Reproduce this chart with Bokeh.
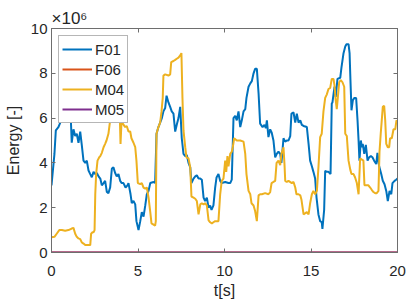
from bokeh.plotting import figure
from bokeh.models import Range1d, LinearAxis, Legend, LegendItem, Title, FixedTicker
from bokeh.embed import file_html
from bokeh.resources import INLINE

# ---- data (energy in units of 1e6) ----
f01_t = [0.0, 0.17, 0.25, 0.40, 0.56, 0.69, 0.81, 0.98, 1.10, 1.17, 1.27, 1.37, 1.46, 1.56, 1.66, 1.75,
         1.85, 1.95, 2.04, 2.14, 2.24, 2.33, 2.43, 2.53, 2.62, 2.72, 2.82, 2.91, 3.01, 3.10, 3.20, 3.29,
         3.39, 3.49, 3.58, 3.68, 3.77, 3.87, 3.97, 4.06, 4.16, 4.28, 4.39, 4.45, 4.57, 4.64, 4.74, 4.84,
         4.91, 5.03, 5.13, 5.22, 5.32, 5.42, 5.51, 5.61, 5.71, 5.90, 5.99, 6.07, 6.18, 6.28, 6.38, 6.47,
         6.57, 6.65, 6.76, 6.86, 6.95, 7.05, 7.15, 7.24, 7.34, 7.44, 7.53, 7.63, 7.73, 7.82, 7.92, 8.02,
         8.09, 8.21, 8.31, 8.40, 8.50, 8.60, 8.69, 8.79, 8.88, 8.98, 9.08, 9.17, 9.25, 9.36, 9.46, 9.54,
         9.65, 9.75, 9.84, 10.04, 10.23, 10.33, 10.42, 10.52, 10.62, 10.71, 10.81, 10.91, 11.00, 11.10,
         11.20, 11.27, 11.39, 11.49, 11.58, 11.68, 11.77, 11.87, 11.97, 12.06, 12.20, 12.31, 12.39, 12.45,
         12.54, 12.64, 12.73, 12.83, 12.93, 13.02, 13.12, 13.22, 13.29, 13.41, 13.51, 13.60, 13.70, 13.80,
         13.87, 13.99, 14.09, 14.18, 14.28, 14.38, 14.47, 14.57, 14.76, 14.86, 14.95, 15.05, 15.14, 15.24,
         15.32, 15.43, 15.53, 15.62, 15.66, 15.76, 15.82, 15.91, 16.01, 16.13, 16.20, 16.24, 16.36, 16.43,
         16.53, 16.69, 16.76, 16.88, 16.98, 17.05, 17.17, 17.23, 17.28, 17.34, 17.42, 17.51, 17.61, 17.69,
         17.75, 17.80, 17.88, 17.94, 17.99, 18.08, 18.17, 18.27, 18.36, 18.46, 18.55, 18.65, 18.77, 18.84,
         18.94, 19.06, 19.15, 19.25, 19.35, 19.44, 19.54, 19.64, 19.71, 19.83, 19.92, 20.0]
f01_e = [3.0, 4.4, 5.45, 5.6, 5.9, 6.1, 6.6, 6.8, 6.3, 4.9, 5.5, 5.2, 5.3, 4.9, 5.4, 4.8,
         4.1, 4.0, 4.1, 3.66, 3.5, 3.36, 3.6, 3.5, 3.55, 3.4, 3.3, 3.0, 3.1, 3.2, 2.7, 2.65,
         2.9, 3.75, 3.8, 3.55, 3.4, 3.5, 3.2, 3.1, 3.1, 2.9, 3.0, 3.1, 2.6, 2.2, 2.3, 2.15,
         1.4, 1.0, 1.4, 1.8, 1.6, 2.1, 2.6, 2.75, 3.1, 3.15, 3.1, 5.3, 5.6, 5.8, 6.0, 6.3,
         6.45, 7.0, 6.7, 6.5, 6.3, 6.2, 5.4, 5.7, 6.0, 6.5, 5.1, 4.4, 4.3, 4.35, 4.0, 3.8,
         3.1, 3.3, 3.4, 3.45, 3.3, 3.3, 3.25, 2.45, 2.3, 2.45, 2.0, 2.1, 1.9, 2.1, 2.9, 3.35,
         3.5, 3.2, 3.1, 3.15, 3.1, 3.1, 3.25, 6.0, 6.1, 5.9, 6.3, 5.6, 5.9, 6.3,
         6.4, 6.9, 7.4, 7.55, 7.65, 8.0, 8.2, 8.2, 7.1, 5.75, 5.6, 5.7, 5.55, 5.9,
         5.15, 5.5, 5.35, 5.0, 4.25, 4.4, 4.5, 4.4, 4.0, 5.1, 4.95, 5.0, 5.0, 5.2,
         6.2, 6.25, 5.8, 6.2, 5.8, 5.9, 5.7, 5.65, 5.6, 4.85, 4.1, 3.85, 3.6, 3.3,
         2.45, 1.7, 1.4, 1.35, 1.05, 1.9, 3.65, 3.6, 3.6, 3.5, 6.65, 6.7, 7.4, 6.95,
         7.75, 7.8, 8.25, 8.9, 9.2, 9.3, 9.3, 8.9, 7.7, 6.35, 6.8, 6.9, 6.9, 5.9,
         5.0, 4.1, 5.0, 4.7, 4.85, 4.4, 4.8, 4.1, 4.25, 4.3, 4.25, 4.1, 3.95, 4.45,
         3.85, 3.5, 3.2, 3.05, 2.75, 2.3, 2.75, 2.6, 3.1, 3.2, 3.25, 3.3]

m04_t = [0.0, 0.17, 0.31, 0.45, 0.60, 0.79, 0.98, 1.17, 1.27, 1.37, 1.46, 1.56, 1.66, 1.75, 1.85, 1.95,
         2.14, 2.24, 2.29, 2.37, 2.43, 2.49, 2.53, 2.58, 2.66, 2.76, 2.82, 2.91, 3.01, 3.10, 3.18, 3.29,
         3.39, 3.45, 3.58, 3.76, 3.93, 3.99, 4.05, 4.12, 4.26, 4.35, 4.45, 4.55, 4.62, 4.74, 4.84, 4.91,
         4.99, 5.13, 5.22, 5.32, 5.42, 5.51, 5.61, 5.71, 5.78, 5.99, 6.03, 6.07, 6.18, 6.28, 6.36, 6.43,
         6.47, 6.57, 6.76, 6.86, 6.92, 7.05, 7.15, 7.24, 7.34, 7.44, 7.51, 7.57, 7.63, 7.73, 7.80, 7.92,
         8.02, 8.09, 8.21, 8.31, 8.40, 8.50, 8.60, 8.69, 8.79, 8.88, 8.98, 9.08, 9.17, 9.27, 9.36, 9.46,
         9.65, 9.75, 9.84, 9.94, 10.04, 10.10, 10.17, 10.23, 10.33, 10.42, 10.48, 10.56, 10.71, 10.91,
         11.10, 11.20, 11.27, 11.39, 11.49, 11.56, 11.68, 11.77, 11.87, 11.97, 12.06, 12.16, 12.35, 12.54,
         12.64, 12.72, 12.83, 12.93, 13.01, 13.12, 13.22, 13.29, 13.41, 13.47, 13.51, 13.60, 13.70, 13.89,
         13.99, 14.09, 14.16, 14.28, 14.38, 14.45, 14.57, 14.66, 14.76, 14.86, 14.95, 15.05, 15.14, 15.24,
         15.34, 15.43, 15.53, 15.62, 15.72, 15.82, 15.91, 16.01, 16.11, 16.20, 16.30, 16.36, 16.42, 16.49,
         16.55, 16.63, 16.72, 16.82, 16.92, 16.98, 17.07, 17.17, 17.27, 17.34, 17.46, 17.55, 17.65, 17.75,
         17.84, 17.94, 18.03, 18.09, 18.23, 18.32, 18.42, 18.51, 18.61, 18.71, 18.80, 18.90, 18.96, 19.03,
         19.09, 19.15, 19.23, 19.29, 19.35, 19.44, 19.52, 19.57, 19.67, 19.77, 19.87, 19.94, 20.0]
m04_e = [0.68, 0.7, 0.85, 1.0, 1.0, 0.97, 1.0, 1.07, 1.1, 0.84, 0.7, 0.63, 0.6, 0.45, 0.4, 0.33,
         0.33, 0.33, 0.84, 0.9, 0.9, 1.0, 2.6, 3.5, 4.1, 4.25, 4.3, 4.45, 4.7, 4.85, 5.0, 5.3,
         5.9, 6.4, 6.8, 6.5, 6.6, 4.85, 5.9, 5.75, 5.6, 5.65, 5.4, 5.4, 5.1, 4.9, 4.7, 4.1,
         3.1, 3.05, 3.1, 2.9, 2.85, 2.9, 2.45, 1.8, 1.3, 1.2, 1.4, 5.3, 5.6, 5.8, 6.3, 6.9,
         7.9, 7.95, 7.9, 7.95, 8.5, 8.55, 8.6, 8.65, 8.7, 8.8, 8.9, 6.9, 5.45, 4.7, 4.25, 4.2,
         3.8, 2.5, 2.45, 2.4, 2.3, 1.7, 2.15, 2.2, 2.15, 2.2, 2.1, 1.43, 1.35, 1.3, 1.35, 1.4,
         1.4, 2.6, 3.2, 3.3, 4.1, 3.6, 4.3, 3.85, 4.4, 4.5, 4.7, 5.1, 5.0, 5.0,
         4.95, 4.4, 3.5, 2.75, 2.6, 2.2, 2.1, 1.85, 1.4, 2.55, 2.6, 2.6, 2.65, 2.6,
         2.7, 3.1, 3.15, 3.2, 4.0, 4.1, 3.9, 4.4, 4.7, 3.9, 3.2, 3.15, 3.2, 3.1,
         3.15, 2.9, 2.6, 2.6, 2.55, 2.35, 1.7, 1.75, 1.8, 1.7, 2.2, 2.6, 2.75, 2.6,
         2.75, 3.8, 5.15, 5.3, 6.3, 6.9, 7.05, 7.3, 7.35, 7.75, 7.75, 7.45, 6.85, 6.4,
         6.9, 7.6, 7.7, 7.6, 7.4, 5.3, 5.2, 4.1, 3.7, 3.5, 3.5, 3.35, 3.1, 2.6,
         4.2, 4.15, 4.1, 3.0, 3.0, 3.0, 2.9, 2.8, 2.7, 2.65, 2.65, 2.75, 4.5, 5.3,
         5.9, 6.5, 6.55, 5.9, 4.85, 4.7, 4.7, 5.1, 5.1, 5.5, 5.5, 5.9, 5.85]

f06_t = [0.0, 20.0]
f06_e = [0.0, 0.0]
m05_t = [0.0, 20.0]
m05_e = [0.0, 0.0]

names = ["F01", "F06", "M04", "M05"]
colors = ["#0072BD", "#D95319", "#EDB120", "#7E2F8E"]
x_ticks = [0, 5, 10, 15, 20]
y_ticks = [0, 2, 4, 6, 8, 10]
scale_text = "×10⁶"

FONT = "Liberation Sans"
TXT = "#262626"
AX = "#6e6e6e"

p = figure(frame_width=346, frame_height=224, output_backend="svg", toolbar_location=None,
           x_range=Range1d(0, 20), y_range=Range1d(0, 10),
           min_border_left=51, min_border_top=28, min_border_right=10, min_border_bottom=53)
p.grid.visible = False
p.outline_line_color = AX
p.background_fill_color = "white"
p.border_fill_color = "white"

def style_axis(ax, ticks, show_labels):
    ax.ticker = FixedTicker(ticks=ticks)
    ax.major_tick_in = 4
    ax.major_tick_out = 0
    ax.minor_tick_line_color = None
    ax.axis_line_color = AX
    ax.major_tick_line_color = AX
    ax.major_label_text_font = FONT
    ax.major_label_text_color = TXT
    ax.major_label_text_font_size = "15px"
    if show_labels:
        ax.major_label_standoff = 4
    else:
        ax.major_label_standoff = 0
        ax.major_label_overrides = {t: "" for t in ticks}

style_axis(p.xaxis[0], x_ticks, True)
style_axis(p.yaxis[0], y_ticks, True)
p.xaxis[0].major_label_standoff = 13
p.xaxis[0].axis_label = "t[s]"
p.yaxis[0].axis_label = "Energy [-]"
for ax in (p.xaxis[0], p.yaxis[0]):
    ax.axis_label_text_font = FONT
    ax.axis_label_text_font_style = "normal"
    ax.axis_label_text_font_size = "16px"
    ax.axis_label_text_color = TXT
p.xaxis[0].axis_label_standoff = 3
p.yaxis[0].axis_label_standoff = 6

top = LinearAxis()
style_axis(top, x_ticks, False)
p.add_layout(top, "above")
right = LinearAxis()
style_axis(right, y_ticks, False)
p.add_layout(right, "right")

title = Title(text=scale_text, align="left", text_font=FONT, text_font_size="17px",
              text_font_style="normal", text_color=TXT, standoff=1, offset=0)
p.add_layout(title, "above")

r1 = p.line(f01_t, f01_e, line_color=colors[0], line_width=2)
r2 = p.line(f06_t, f06_e, line_color=colors[1], line_width=2)
r3 = p.line(m04_t, m04_e, line_color=colors[2], line_width=2)
r4 = p.line(m05_t, m05_e, line_color=colors[3], line_width=2)

legend = Legend(items=[LegendItem(label=n, renderers=[r]) for n, r in zip(names, [r1, r2, r3, r4])],
                location="top_left")
legend.margin = 7
legend.padding = 3
legend.spacing = 0
legend.glyph_width = 30
legend.glyph_height = 20
legend.label_height = 20
legend.label_standoff = 3
legend.label_text_font = FONT
legend.label_text_font_size = "15px"
legend.label_text_color = TXT
legend.border_line_color = AX
legend.border_line_width = 1
legend.background_fill_color = "white"
legend.background_fill_alpha = 1.0
p.add_layout(legend, "center")

open("out.html", "w").write(file_html(p, INLINE))
